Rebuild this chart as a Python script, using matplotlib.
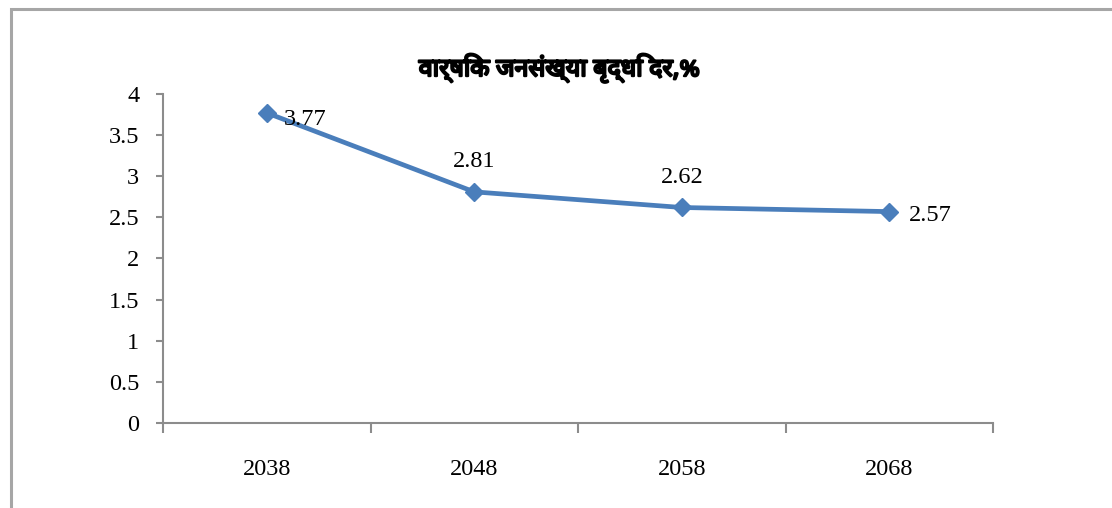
import matplotlib
matplotlib.use('Agg')
import matplotlib.pyplot as plt
import matplotlib.patheffects as pe
from matplotlib.patches import Rectangle

# data
years = ["2038", "2048", "2058", "2068"]
growth_rate = [3.77, 2.81, 2.62, 2.57]
y_ticks = [0, 0.5, 1, 1.5, 2, 2.5, 3, 3.5, 4]
title = "वार्षिक जनसंख्या बृद्धि दर,%"

LINE_COLOR = "#4A7EBB"
AXIS_COLOR = "#8C8C8C"
SERIF = ["Liberation Serif", "DejaVu Serif"]
DEVA = ["Noto Sans Devanagari", "Lohit Devanagari", "FreeSans", "Noto Sans", "DejaVu Sans"]

fig = plt.figure(figsize=(11.12, 5.08), dpi=100)
ax = fig.add_axes([0.1466, 0.1673, 0.7464, 0.6477])

x = list(range(len(years)))
ax.plot(x, growth_rate, color=LINE_COLOR, lw=3.4, marker='D', markersize=9.5,
        solid_capstyle='round', zorder=3)

# data labels: first and last to the right, middle ones above
offsets = [(12, -5, 'left', 'center'), (0, 14, 'center', 'bottom'),
           (0, 14, 'center', 'bottom'), (14, -3, 'left', 'center')]
for xi, v, (dx, dy, ha, va) in zip(x, growth_rate, offsets):
    ax.annotate(f"{v:.2f}", (xi, v), xytext=(dx, dy), textcoords='offset points',
                ha=ha, va=va, fontsize=17.5, family=SERIF)

ax.set_xlim(-0.5, len(years) - 0.5)
ax.set_ylim(0, 4)
ax.set_yticks(y_ticks)
ax.set_yticklabels([f"{t:g}" for t in y_ticks], family=SERIF, fontsize=17.5)
ax.tick_params(axis='y', direction='out', length=5, width=1.5, color=AXIS_COLOR, pad=12)

# category boundaries as major ticks, labels on minor ticks
ax.set_xticks([i - 0.5 for i in range(len(years) + 1)])
ax.set_xticklabels([])
ax.set_xticks(x, minor=True)
ax.set_xticklabels(years, minor=True, family=SERIF, fontsize=17.5)
ax.tick_params(axis='x', which='major', direction='out', length=7, width=1.5, color=AXIS_COLOR)
ax.tick_params(axis='x', which='minor', length=0, pad=26)

for side in ['top', 'right']:
    ax.spines[side].set_visible(False)
for side in ['left', 'bottom']:
    ax.spines[side].set_color(AXIS_COLOR)
    ax.spines[side].set_linewidth(1.5)

# the Devanagari font has no bold face, so thicken the strokes
fig.text(0.503, 0.866, title, ha='center', va='center', fontsize=18,
         fontweight='bold', family=DEVA,
         path_effects=[pe.withStroke(linewidth=1.6, foreground='black')])

# chart frame, cropped at right and bottom
fig.patches.append(Rectangle((11 / 1112, -0.05), 1.1, 1 - 9 / 508 + 0.05,
                             transform=fig.transFigure, fill=False,
                             edgecolor='#A6A6A6', lw=2.2))

fig.savefig("out.png", dpi=100)
